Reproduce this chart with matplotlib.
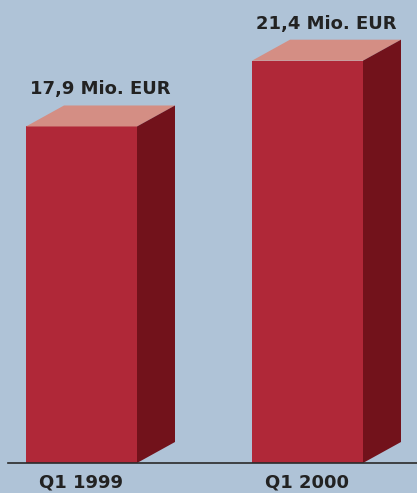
import matplotlib
matplotlib.use('Agg')
import matplotlib.pyplot as plt

# Daten
categories = ['Q1 1999', 'Q1 2000']
values = [17.9, 21.4]
value_labels = ['17,9 Mio. EUR', '21,4 Mio. EUR']

# Farben
bg_color = '#AFC3D7'
front_color = '#B02838'
top_color = '#D48E84'
side_color = '#72121B'
text_color = '#222222'

fig = plt.figure(figsize=(4.17, 4.93), dpi=100)
fig.patch.set_facecolor(bg_color)
ax = fig.add_axes([0, 0, 1, 1])
ax.set_facecolor(bg_color)

# Skalen: 226 px pro Kategorie, 18.8 px pro Mio. EUR
px_x = 226.0
px_y = 18.8
ax.set_xlim(-81.5 / px_x, (417 - 81.5) / px_x)
ax.set_ylim(-(493 - 463) / px_y, 463 / px_y)

width = 111 / px_x
dx = 38 / px_x   # 3D-Tiefe
dy = 21 / px_y

xs = list(range(len(categories)))

# Vorderseite
ax.bar(xs, values, width=width, color=front_color, zorder=2)

# Oberseite und Seitenfläche
for x, v in zip(xs, values):
    left = x - width / 2
    right = x + width / 2
    ax.fill([left, right, right + dx, left + dx],
            [v, v, v + dy, v + dy], color=top_color, lw=0, zorder=2)
    ax.fill([right, right + dx, right + dx, right],
            [0, dy, v + dy, v], color=side_color, lw=0, zorder=2)

# Grundlinie
ax.plot([8 / px_x - 81.5 / px_x, (417 - 81.5) / px_x], [0, 0],
        color='#2a2a2a', lw=1.2, zorder=3)

# Beschriftungen
for x, v, lab in zip(xs, values, value_labels):
    ax.text(x + dx / 2, v + dy + 16 / px_y, lab, ha='center', va='center',
            fontsize=13, fontweight='bold', color=text_color)

for x, c in zip(xs, categories):
    ax.text(x, -20 / px_y, c, ha='center', va='center',
            fontsize=13, fontweight='bold', color=text_color)

ax.axis('off')

plt.savefig('out.png', dpi=100, facecolor=bg_color)
plt.close()
